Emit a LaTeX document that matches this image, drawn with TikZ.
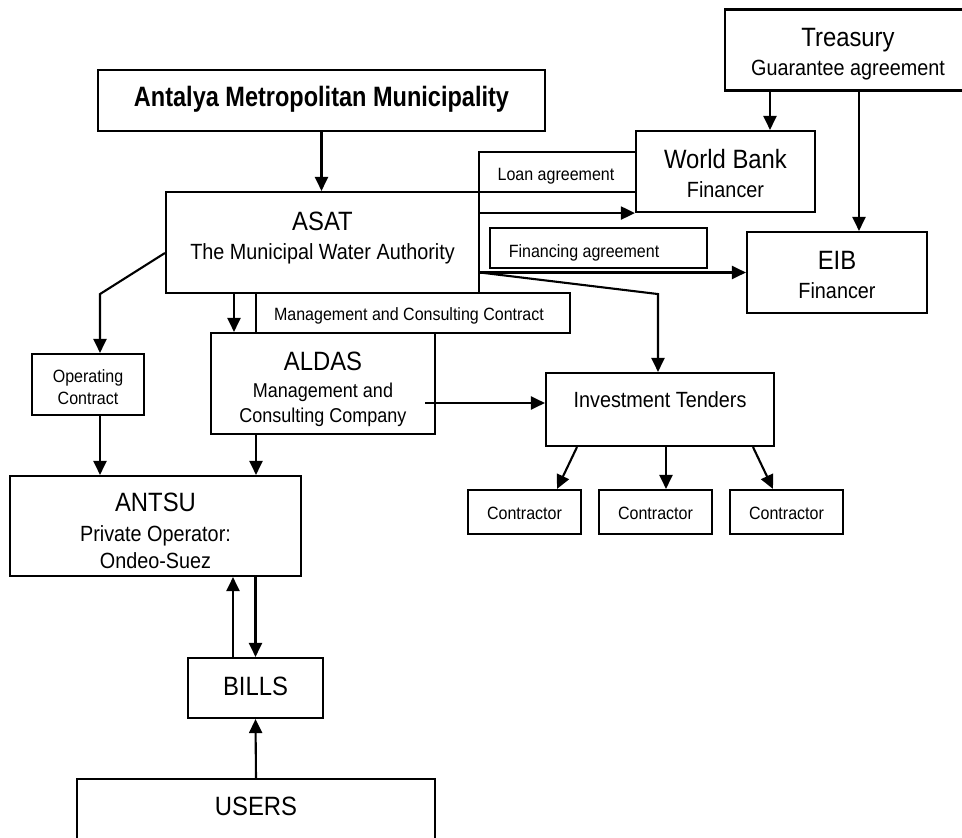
\documentclass[tikz,border=0pt]{standalone}
\usepackage{fontspec}
\setmainfont{Liberation Sans}[FakeStretch=0.9]
\newfontfamily\headfont{Liberation Sans}[FakeStretch=0.84]
\usetikzlibrary{arrows.meta}

\begin{document}
\begin{tikzpicture}[x=1pt,y=-1pt,
  box/.style={draw, line width=2.1pt, inner sep=0pt},
  txt/.style={inner sep=0pt, anchor=base},
  hd/.style={txt, font=\fontsize{26.5}{30}\selectfont},
  sub/.style={txt, font=\fontsize{22}{26}\selectfont},
  mid/.style={txt, font=\fontsize{20}{24}\selectfont},
  tag/.style={txt, font=\fontsize{17.8}{21}\selectfont},
  arr/.style={line width=2.1pt, -{Triangle[length=14pt,width=13pt]}}]
\useasboundingbox (0,0) rectangle (962,838);
\clip (0,0) rectangle (962,838);

% boxes
\node[box, minimum width=250pt, minimum height=81pt] (treasury) at (850,50) {};
\node[box, minimum width=447pt, minimum height=61pt] (amm) at (321.5,100.5) {};
\node[box, minimum width=179pt, minimum height=81pt] (wb) at (725.5,171.5) {};
\node[box, minimum width=157pt, minimum height=40pt] (loan) at (557.5,172) {};
\node[box, minimum width=313pt, minimum height=101pt] (asat) at (322.5,242.5) {};
\node[box, minimum width=217pt, minimum height=40pt] (finag) at (598.5,248) {};
\node[box, minimum width=180pt, minimum height=81pt] (eib) at (837,272.5) {};
\node[box, minimum width=314pt, minimum height=40pt] (mcc) at (413,313) {};
\node[box, minimum width=224pt, minimum height=101pt] (aldas) at (323,383.5) {};
\node[box, minimum width=112pt, minimum height=61pt] (opc) at (88,384.5) {};
\node[box, minimum width=228pt, minimum height=73pt] (tenders) at (660,409.5) {};
\node[box, minimum width=113pt, minimum height=44pt] (con1) at (524.5,512) {};
\node[box, minimum width=113pt, minimum height=44pt] (con2) at (655.5,512) {};
\node[box, minimum width=113pt, minimum height=44pt] (con3) at (786.5,512) {};
\node[box, minimum width=291pt, minimum height=100pt] (antsu) at (155.5,526) {};
\node[box, minimum width=135pt, minimum height=60pt] (bills) at (255.5,688) {};
\node[box, minimum width=358pt, minimum height=101pt] (users) at (256,829.5) {};

% texts
\node[hd] (treasury-a) at (848,46.5) {Treasury};
\node[sub] (treasury-b) at (848,75) {Guarantee agreement};
\node[txt, font=\headfont\fontsize{28}{32}\selectfont\bfseries] (amm-a) at (321.5,106) {Antalya Metropolitan Municipality};
\node[hd] (wb-a) at (725.5,168) {World Bank};
\node[sub] (wb-b) at (725.5,197) {Financer};
\node[tag] (loan-a) at (556,180) {Loan agreement};
\node[hd] (asat-a) at (322.5,230) {ASAT};
\node[sub] (asat-b) at (322.5,259) {The Municipal Water Authority};
\node[tag] (finag-a) at (584,257) {Financing agreement};
\node[hd] (eib-a) at (837,269) {EIB};
\node[sub] (eib-b) at (837,298) {Financer};
\node[tag] (mcc-a) at (409,320.5) {Management and Consulting Contract};
\node[hd] (aldas-a) at (323,370) {ALDAS};
\node[mid] (aldas-b) at (323,397) {Management and};
\node[mid] (aldas-c) at (323,422.5) {Consulting Company};
\node[tag] (opc-a) at (88,382) {Operating};
\node[tag] (opc-b) at (88,404) {Contract};
\node[sub] (tenders-a) at (660,407) {Investment Tenders};
\foreach \c in {con1,con2,con3}
  \node[tag] (\c-a) at ([yshift=-7pt]\c.center) {Contractor};
\node[hd] (antsu-a) at (155.5,511.5) {ANTSU};
\node[sub] (antsu-b) at (155.5,541.5) {Private Operator:};
\node[sub] (antsu-c) at (155.5,568) {Ondeo-Suez};
\node[hd] (bills-a) at (255.5,695) {BILLS};
\node[hd] (users-a) at (256,815.5) {USERS};

% connectors
\draw[arr] (amm.south) -- (amm.south |- asat.north);
\draw[arr] ([xshift=44.5pt]wb.north |- treasury.south) -- ([xshift=44.5pt]wb.north);
\draw[arr] ([xshift=22pt]eib.north |- treasury.south) -- ([xshift=22pt]eib.north);
\draw[arr] (asat.east |- wb.south west) -- (wb.south west);
\draw[arr] (asat.east |- eib.west) -- (eib.west);
\draw[arr] (asat.east |- eib.west) -- ([xshift=-2pt]tenders.north |- asat.south)
  -- ([xshift=-2pt]tenders.north);
\draw[arr] ([yshift=-10.5pt]asat.west) -- ([xshift=12pt]opc.north |- asat.south)
  -- ([xshift=12pt]opc.north);
\draw[arr] ([xshift=12pt]opc.south) -- ([xshift=12pt]opc.south |- antsu.north);
\draw[arr] ([xshift=-89pt]aldas.north |- asat.south) -- ([xshift=-89pt]aldas.north);
\draw[arr] ([xshift=-67pt]aldas.south) -- ([xshift=-67pt]aldas.south |- antsu.north);
\draw[arr] ([shift={(-11pt,-19.5pt)}]aldas.east) -- ([yshift=6.5pt]tenders.west);
\draw[arr] ([xshift=-83pt]tenders.south) -- ([xshift=32.5pt]con1.north);
\draw[arr] ([xshift=6pt]tenders.south) -- ([xshift=10.5pt]con2.north);
\draw[arr] ([xshift=93pt]tenders.south) -- ([xshift=-13.5pt]con3.north);
\draw[arr] ([xshift=-22.5pt]bills.north) -- ([xshift=-22.5pt]bills.north |- antsu.south);
\draw[arr] (bills.north |- antsu.south) -- (bills.north);
\draw[arr] (users.north) -- (bills.south);
\end{tikzpicture}
\end{document}
